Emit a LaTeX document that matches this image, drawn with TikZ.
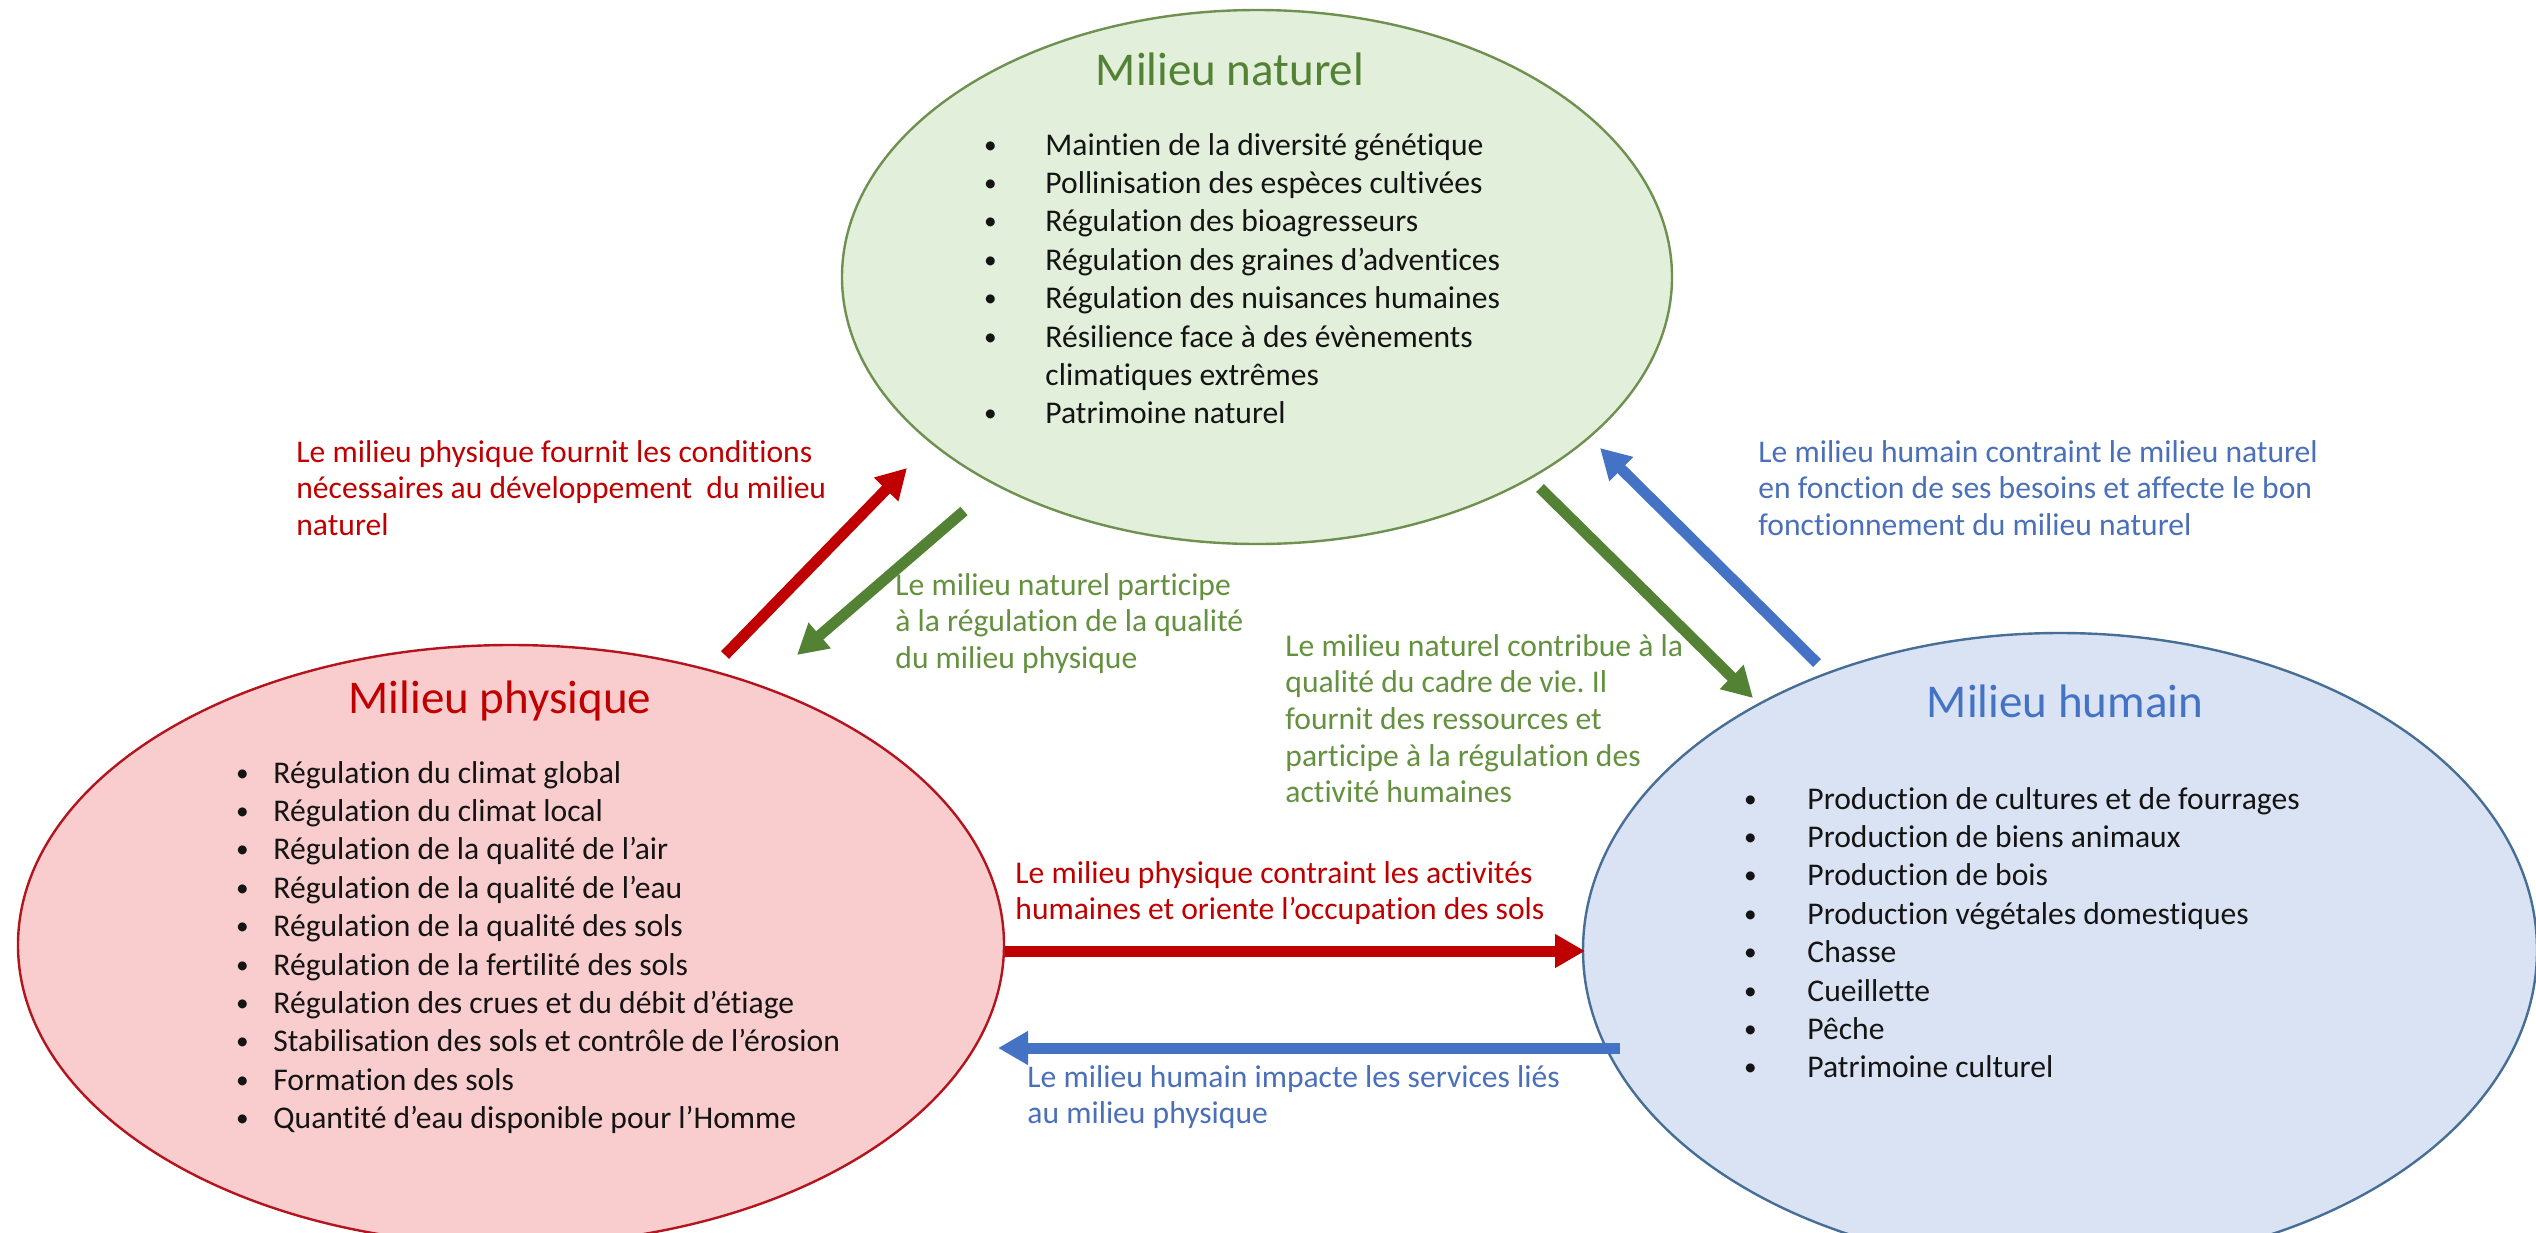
\documentclass[tikz,border=0pt]{standalone}
\usepackage{fontspec}
\setmainfont{Carlito}[Ligatures={NoCommon}]
\usetikzlibrary{shapes.geometric,arrows.meta}
\definecolor{redC}{RGB}{192,0,0}
\definecolor{greenC}{RGB}{84,130,53}
\definecolor{greenT}{RGB}{100,145,62}
\definecolor{blueC}{RGB}{68,114,196}
\definecolor{blueT}{RGB}{74,112,186}
\definecolor{gFill}{RGB}{226,239,218}
\definecolor{gLine}{RGB}{110,145,80}
\definecolor{rFill}{RGB}{249,205,205}
\definecolor{rLine}{RGB}{180,20,30}
\definecolor{bFill}{RGB}{218,227,243}
\definecolor{bLine}{RGB}{70,110,150}
\definecolor{bodyC}{RGB}{20,20,20}
\newcommand\bodyfont{\fontsize{15.8}{19.2}\selectfont}
\newcommand\edgefont{\fontsize{15.8}{18.35}\selectfont}
\newcommand\titlefont{\fontsize{23.5}{28}\selectfont}
\newcommand\bul{\makebox[0pt][c]{\raisebox{0.06em}{\scalebox{0.8}{\textbullet}}}}
\newcommand\lns[1]{\begin{tabular}[t]{@{}l@{}}#1\end{tabular}}
\renewcommand\arraystretch{1}
\frenchspacing
\begin{document}
\begin{tikzpicture}[x=0.5pt,y=-0.5pt,
  zone/.style={ellipse, inner sep=0pt, line width=1.2pt},
  ttl/.style={anchor=base, inner sep=0pt, font=\titlefont},
  lst/.style={anchor=base west, inner sep=0pt, font=\bodyfont, text=bodyC},
  lbl/.style={anchor=base west, inner sep=0pt, font=\edgefont},
  arr/.style={line width=5.5pt, -{Triangle[width=16pt,length=15pt]}}]
\useasboundingbox (0,0) rectangle (2536,1232);
\clip (0,0) rectangle (2536,1232);
\fill[white] (0,0) rectangle (2536,1232);

% zones
\node[zone, fill=gFill, draw=gLine, minimum width=415pt, minimum height=267pt] (nat) at (1257,277) {};
\node[zone, fill=rFill, draw=rLine, minimum width=493pt, minimum height=300pt] (phy) at (511,945) {};
\node[zone, fill=bFill, draw=bLine, minimum width=477pt, minimum height=317pt] (hum) at (2060,950) {};

% titles
\node[ttl, text=greenC] (natT) at (1230,85) {Milieu naturel};
\node[ttl, text=redC] (phyT) at (500,713) {Milieu physique};
\node[ttl, text=blueC] (humT) at (2065,717) {Milieu humain};

% lists
\node[lst] (natL) at (990,155) {\lns{%
\bul\hspace{27.5pt}Maintien de la diversité génétique\\
\bul\hspace{27.5pt}Pollinisation des espèces cultivées\\
\bul\hspace{27.5pt}Régulation des bioagresseurs\\
\bul\hspace{27.5pt}Régulation des graines d’adventices\\
\bul\hspace{27.5pt}Régulation des nuisances humaines\\
\bul\hspace{27.5pt}Résilience face à des évènements\\
\hspace{27.5pt}climatiques extrêmes\\
\bul\hspace{27.5pt}Patrimoine naturel}};

\node[lst] (phyL) at (242,783) {\lns{%
\bul\hspace{15.5pt}Régulation du climat global\\
\bul\hspace{15.5pt}Régulation du climat local\\
\bul\hspace{15.5pt}Régulation de la qualité de l’air\\
\bul\hspace{15.5pt}Régulation de la qualité de l’eau\\
\bul\hspace{15.5pt}Régulation de la qualité des sols\\
\bul\hspace{15.5pt}Régulation de la fertilité des sols\\
\bul\hspace{15.5pt}Régulation des crues et du débit d’étiage\\
\bul\hspace{15.5pt}Stabilisation des sols et contrôle de l’érosion\\
\bul\hspace{15.5pt}Formation des sols\\
\bul\hspace{15.5pt}Quantité d’eau disponible pour l’Homme}};

\node[lst] (humL) at (1750,809) {\lns{%
\bul\hspace{28.5pt}Production de cultures et de fourrages\\
\bul\hspace{28.5pt}Production de biens animaux\\
\bul\hspace{28.5pt}Production de bois\\
\bul\hspace{28.5pt}Production végétales domestiques\\
\bul\hspace{28.5pt}Chasse\\
\bul\hspace{28.5pt}Cueillette\\
\bul\hspace{28.5pt}Pêche\\
\bul\hspace{28.5pt}Patrimoine culturel}};

% arrow end points
\coordinate (a1s) at (725,655);  \coordinate (a1e) at (907,468);
\coordinate (a2s) at (964,511);  \coordinate (a2e) at (797,655);
\coordinate (a3s) at (1540,488); \coordinate (a3e) at (1753,698);
\coordinate (a4s) at (1817,663); \coordinate (a4e) at (1600,448);
\coordinate (a5s) at (1005,951); \coordinate (a5e) at (1585,951);
\coordinate (a6s) at (1620,1048);\coordinate (a6e) at (998,1048);

\draw[arr, redC] (a1s) -- (a1e);
\draw[arr, greenC] (a2s) -- (a2e);
\draw[arr, greenC] (a3s) -- (a3e);
\draw[arr, blueC] (a4s) -- (a4e);
\draw[arr, redC] (a5s) -- (a5e);
\draw[arr, blueC] (a6s) -- (a6e);

% labels
\node[lbl, text=redC] (l1) at (296,462) {\lns{Le milieu physique fournit les conditions\\ nécessaires au développement\ \ du milieu\\ naturel}};
\node[lbl, text=greenT] (l2) at (895,595) {\lns{Le milieu naturel participe\\ à la régulation de la qualité\\ du milieu physique}};
\node[lbl, text=greenT] (l3) at (1285,656) {\lns{Le milieu naturel contribue à la\\ qualité du cadre de vie. Il\\ fournit des ressources et\\ participe à la régulation des\\ activité humaines}};
\node[lbl, text=blueT] (l4) at (1758,462) {\lns{Le milieu humain contraint le milieu naturel\\ en fonction de ses besoins et affecte le bon\\ fonctionnement du milieu naturel}};
\node[lbl, text=redC] (l5) at (1015,883) {\lns{Le milieu physique contraint les activités\\ humaines et oriente l’occupation des sols}};
\node[lbl, text=blueT] (l6) at (1027,1087) {\lns{Le milieu humain impacte les services liés\\ au milieu physique}};
\end{tikzpicture}
\end{document}
